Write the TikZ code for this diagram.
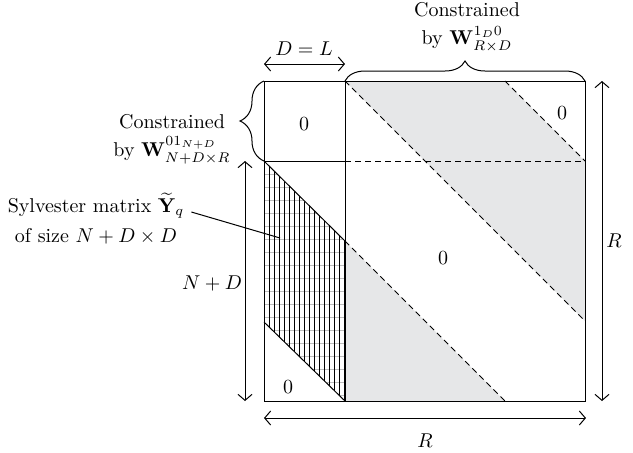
\documentclass[tikz,border=0pt]{standalone}
\usepackage{amsmath}
\usepackage{amssymb}
\usepackage{tikz}
\usetikzlibrary{arrows.meta,decorations.pathreplacing}
\definecolor{bantGri}{HTML}{E6E7E8}
\definecolor{izgaraGri}{HTML}{BDBDBD}

\begin{document}
\begin{tikzpicture}[x=0.5pt,y=-0.5pt,line width=0.5pt,
  olcu/.style={{Straight Barb[length=3pt,width=7pt]}-{Straight Barb[length=3pt,width=7pt]}},
  kesik/.style={dash pattern=on 3pt off 2pt},
  parantez/.style={decorate,decoration={brace,amplitude=#1}}]
\useasboundingbox (0,0) rectangle (633,452);
% 1) koseler
\coordinate (tl) at (264,81); \coordinate (tm) at (345,81); \coordinate (tr) at (585,81);
\coordinate (ml) at (264,161); \coordinate (mm) at (345,161); \coordinate (mr) at (585,161);
\coordinate (bl) at (264,401); \coordinate (bm) at (345,401); \coordinate (br) at (585,401);
\coordinate (bantUst) at (505,81); \coordinate (bantSag) at (585,321);
\coordinate (hUst) at (345,241); \coordinate (hSol) at (264,322); \coordinate (bantAlt) at (505,401);
% 2) gri bantlar
\fill[bantGri] (tm) -- (bantUst) -- (mr) -- (bantSag) -- cycle;
\fill[bantGri] (hUst) -- (bantAlt) -- (bm) -- cycle;
% 3) Sylvester (taralı)
\begin{scope}
\clip (ml) -- (hUst) -- (bm) -- (hSol) -- cycle;
\foreach \y in {174,187,...,400} \draw[izgaraGri,line width=0.25pt] (264,\y) -- (345,\y);
\foreach \x in {269,274,...,344} \draw[line width=0.45pt] (\x,161) -- (\x,401);
\end{scope}
% 4) kesikli köşegenler
\draw[kesik] (tm) -- (bantSag);
\draw[kesik] (bantUst) -- (mr);
\draw[kesik] (hUst) -- (bantAlt);
\draw[kesik] (mm) -- (mr);
% 5) çerçeve
\draw (tl) rectangle (br);
\draw (tm) -- (bm);
\draw (ml) -- (mm);
\draw (ml) -- (hUst) (hSol) -- (bm);
% 6) parantezler
\draw[parantez=10pt] (tm) -- (tr);
\draw[parantez=12pt] (ml) -- (tl);
\node[align=center] (ustKisit) at (467,27) {Constrained\\[2pt] by $\mathbf{W}^{1_D0}_{R\times D}$};
\node[align=center] (solKisit) at (172,139) {Constrained\\[2pt] by $\mathbf{W}^{01_{N+D}}_{N+D\times R}$};
% 7) sıfır blokları
\node (sifirA) at (304,124) {$0$};
\node (sifirB) at (562,113) {$0$};
\node (sifirC) at (443,258) {$0$};
\node (sifirD) at (288,387) {$0$};
% 8) Sylvester etiketi
\node[align=center] (sylv) at (96,219) {Sylvester matrix $\widetilde{\mathbf{Y}}_q$\\[3pt] of size $N+D\times D$};
\coordinate (sylvUc) at (280,238);
\draw ([yshift=3.5pt]sylv.east) -- (sylvUc);
% 9) ölçü okları
\coordinate (dSol) at (264,64); \coordinate (dSag) at (345,64);
\draw[olcu] (dSol) -- (dSag);
\node (etiketD) at (304,49) {$D=L$};
\coordinate (ndUst) at (245,161); \coordinate (ndAlt) at (245,401);
\draw[olcu] (ndUst) -- (ndAlt);
\node (etiketND) at (212,283) {$N+D$};
\coordinate (rUst) at (602,81); \coordinate (rAlt) at (602,401);
\draw[olcu] (rUst) -- (rAlt);
\node (etiketRsag) at (614,241) {$R$};
\coordinate (rSol) at (264,418); \coordinate (rSag) at (586,418);
\draw[olcu] (rSol) -- (rSag);
\node (etiketRalt) at (425,441) {$R$};
\end{tikzpicture}
\end{document}
